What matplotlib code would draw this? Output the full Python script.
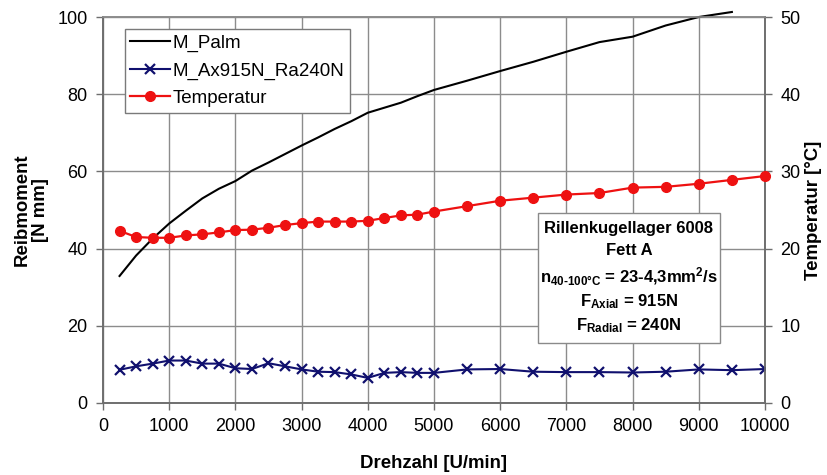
import matplotlib
matplotlib.use("Agg")
import matplotlib.pyplot as plt
from matplotlib.patches import Rectangle

plt.rcParams['font.family'] = ['Liberation Sans', 'DejaVu Sans']
plt.rcParams['mathtext.fontset'] = 'custom'
plt.rcParams['mathtext.rm'] = 'Liberation Sans:bold'
plt.rcParams['mathtext.bf'] = 'Liberation Sans:bold'
plt.rcParams['mathtext.it'] = 'Liberation Sans:bold'

# Drehzahl [U/min]
drehzahl = [250, 500, 750, 1000, 1250, 1500, 1750, 2000, 2250, 2500, 2750, 3000,
            3250, 3500, 3750, 4000, 4250, 4500, 4750, 5000, 5500, 6000, 6500,
            7000, 7500, 8000, 8500, 9000, 9500, 10000]

# M_Palm [N mm] (ends at 9500)
palm_x = drehzahl[:-1]
palm = [32.9, 38.2, 42.6, 46.5, 49.8, 53.0, 55.5, 57.5, 60.2, 62.3, 64.5, 66.7,
        68.8, 71.0, 73.0, 75.2, 76.5, 77.8, 79.5, 81.1, 83.5, 86.0, 88.4,
        91.0, 93.5, 94.9, 97.8, 100.0, 101.3]

# M_Ax915N_Ra240N [N mm]
m_ax = [8.6, 9.5, 10.2, 11.0, 11.0, 10.2, 10.2, 9.0, 8.8, 10.3, 9.5, 8.7,
        8.1, 8.0, 7.4, 6.5, 7.8, 8.0, 7.8, 7.8, 8.7, 8.8, 8.1,
        8.0, 8.0, 7.9, 8.1, 8.7, 8.5, 8.8]

# Temperatur [°C]
temperatur = [22.3, 21.5, 21.4, 21.4, 21.7, 21.85, 22.1, 22.4, 22.45, 22.7, 23.05, 23.3,
              23.5, 23.5, 23.5, 23.6, 23.96, 24.3, 24.4, 24.8, 25.5, 26.2, 26.6,
              27.0, 27.2, 27.9, 28.0, 28.4, 28.9, 29.4]

info_lines = [
    "Rillenkugellager 6008",
    "Fett A",
    r"n$_{40\text{-}100°C}$ = 23-4,3mm$^{2}$/s",
    r"F$_{Axial}$ = 915N",
    r"F$_{Radial}$ = 240N",
]

grid_col = "#8c8c8c"
spine_col = "#6e6e6e"

fig = plt.figure(figsize=(8.28, 4.75), dpi=100)
ax = fig.add_axes([0.1244, 0.1516, 0.7995, 0.8126])
ax2 = ax.twinx()

l1, = ax.plot(palm_x, palm, color="black", lw=1.5, clip_on=False, zorder=3,
              label="M_Palm")
l2, = ax.plot(drehzahl, m_ax, color="#10106e", lw=1.5, marker="x", ms=7.5,
              mew=1.6, zorder=3, label="M_Ax915N_Ra240N")
l3, = ax2.plot(drehzahl, temperatur, color="#ee1111", lw=1.6, marker="o",
               ms=7, zorder=3, clip_on=False, label="Temperatur")

ax.set_xlim(0, 10000)
ax.set_ylim(0, 100)
ax2.set_ylim(0, 50)
ax.set_xticks(range(0, 10001, 1000))
ax.set_yticks(range(0, 101, 20))
ax2.set_yticks(range(0, 51, 10))

ax.grid(True, color=grid_col, lw=1.0)
ax.set_axisbelow(True)
for a in (ax, ax2):
    for s in a.spines.values():
        s.set_color(spine_col)
        s.set_linewidth(1.2)
    a.tick_params(direction="out", length=5, width=1, color=spine_col,
                  labelsize=13, pad=6)
ax.spines["top"].set_color(grid_col)
ax2.spines["top"].set_color(grid_col)

ax.set_xlabel("Drehzahl [U/min]", fontsize=13.4, fontweight="bold", labelpad=14)
ax.set_ylabel("Reibmoment\n[N mm]", fontsize=13.4, fontweight="bold",
              labelpad=6, linespacing=1.1)
ax2.set_ylabel("Temperatur [°C]", fontsize=13.4, fontweight="bold", labelpad=3)

leg = ax2.legend(handles=[l1, l2, l3], loc="upper left",
                 bbox_to_anchor=(0.033, 0.969), borderaxespad=0,
                 fontsize=13.5, frameon=True, fancybox=False, framealpha=1,
                 edgecolor="#7a7a7a", handlelength=2.1, handletextpad=0.15,
                 labelspacing=0.55, borderpad=0.3)
leg.get_frame().set_linewidth(1.0)

box = Rectangle((0.657, 0.155), 0.275, 0.337, transform=ax2.transAxes,
                facecolor="white", edgecolor="#8a8a8a", lw=1.0, zorder=5)
ax2.add_patch(box)
line_y = [0.452, 0.394, 0.327, 0.262, 0.200]
for txt, yy in zip(info_lines, line_y):
    ax2.text(0.7945, yy, txt, transform=ax2.transAxes, ha="center",
             va="center", fontsize=12, fontweight="bold", zorder=6)

fig.savefig("out.png", dpi=100)
